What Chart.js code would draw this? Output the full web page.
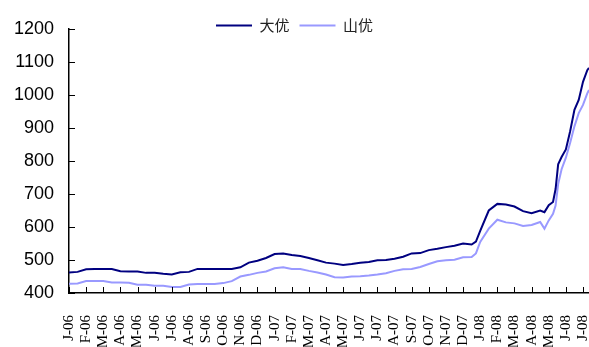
<!DOCTYPE html>
<html><head><meta charset="utf-8">
<script src="https://cdn.jsdelivr.net/npm/chart.js@4"></script>
<style>html,body{margin:0;padding:0;background:#fff}</style>
</head><body>
<canvas id="c" width="589" height="347"></canvas>
<script>
const tickLabels = ['J-06','F-06','M-06','A-06','M-06','J-06','J-06','A-06','S-06','O-06','N-06','D-06',
  'J-07','F-07','M-07','A-07','M-07','J-07','J-07','A-07','S-07','O-07','N-07','D-07',
  'J-08','F-08','M-08','A-08','M-08','J-08','J-08'];
const seriesNames = ['大优', '山优'];
// time position in months since Jan 2006
const months = [0,0.5,1,1.5,2,2.5,3,3.5,4,4.5,5,5.5,6,6.5,7,7.5,8,8.5,9,9.5,10,10.5,11,11.5,
  12,12.5,13,13.5,14,14.5,15,15.5,16,16.5,17,17.5,18,18.5,19,19.5,20,20.5,21,21.5,22,22.5,23,23.5,23.75,
  24,24.5,25,25.5,26,26.5,27,27.5,27.75,28,28.25,28.4,28.55,28.75,29,29.25,29.5,29.75,30,30.25,30.35];
const dayou = [462,464,472,473,473,473,466,465,465,461,461,458,456,463,464,473,473,473,473,473,478,492,498,506,
  518,520,515,512,506,499,492,489,485,488,492,494,499,500,504,510,520,521,530,534,539,543,550,547,556,
  588,650,670,668,662,648,642,650,645,666,676,715,790,812,835,890,955,985,1040,1075,1082];
const shanyou = [428,429,436,436,436,432,432,431,425,425,422,422,418,418,426,427,427,427,430,436,450,455,461,465,
  475,478,473,473,467,462,456,448,447,450,451,453,456,460,467,472,473,479,488,496,499,501,508,509,520,
  555,595,622,614,611,603,606,615,595,620,640,665,730,775,810,855,905,945,970,1005,1015];

const inwardTicks = {
  id: 'inwardTicks',
  afterLayout(chart) {
    // let the legend overlap the top of the plot without being clipped
    if (chart.legend) { chart.legend.bottom += 30; chart.legend.height += 30; }
  },
  afterDraw(chart) {
    const {ctx, chartArea, scales: {x, y}} = chart;
    ctx.save();
    ctx.strokeStyle = '#000';
    ctx.lineWidth = 1;
    ctx.beginPath();
    y.ticks.forEach(t => {
      const py = Math.round(y.getPixelForValue(t.value)) + 0.5;
      ctx.moveTo(chartArea.left, py); ctx.lineTo(chartArea.left + 6, py);
    });
    x.ticks.forEach(t => {
      if (!Number.isInteger(t.value)) return;
      const px = Math.round(x.getPixelForValue(t.value)) + 0.5;
      ctx.moveTo(px, chartArea.bottom); ctx.lineTo(px, chartArea.bottom - 6);
    });
    ctx.stroke();
    ctx.restore();
  }
};

new Chart(document.getElementById('c'), {
  type: 'line',
  data: {
    datasets: [
      {label: seriesNames[0], data: months.map((m, i) => ({x: m, y: dayou[i]})),
       borderColor: '#000080', backgroundColor: '#000080', borderWidth: 2, pointRadius: 0, tension: 0},
      {label: seriesNames[1], data: months.map((m, i) => ({x: m, y: shanyou[i]})),
       borderColor: '#9999ff', backgroundColor: '#9999ff', borderWidth: 2, pointRadius: 0, tension: 0}
    ]
  },
  options: {
    responsive: false,
    animation: false,
    devicePixelRatio: 1,
    layout: {padding: {top: 8, left: 0, right: 0, bottom: 0}},
    plugins: {
      tooltip: {enabled: false},
      legend: {
        position: 'top',
        align: 'center',
        maxHeight: 21,
        labels: {
          usePointStyle: true,
          pointStyle: 'line',
          pointStyleWidth: 36,
          padding: 10,
          color: '#222',
          font: {family: '"Noto Sans CJK SC", sans-serif', size: 15}
        }
      }
    },
    scales: {
      x: {
        type: 'linear',
        min: 0,
        max: 30.35,
        grid: {display: false, drawTicks: false},
        border: {display: true, color: '#000', width: 1.5},
        ticks: {
          stepSize: 1,
          includeBounds: false,
          autoSkip: false,
          minRotation: 90,
          maxRotation: 90,
          padding: 22,
          color: '#000',
          font: {family: '"Liberation Serif", "Times New Roman", serif', size: 15},
          callback: v => tickLabels[v] ?? ''
        },
        afterFit: s => { s.height = 54; s.paddingRight = 0; s.paddingLeft = 0; }
      },
      y: {
        min: 400,
        max: 1200,
        grid: {display: false, drawTicks: false},
        border: {display: true, color: '#000', width: 1.5},
        ticks: {
          stepSize: 100,
          padding: 15,
          color: '#000',
          font: {family: '"Liberation Sans", Arial, sans-serif', size: 18},
          callback: v => String(v)
        },
        afterFit: s => { s.width = 69; }
      }
    }
  },
  plugins: [inwardTicks]
});
</script>
</body></html>
